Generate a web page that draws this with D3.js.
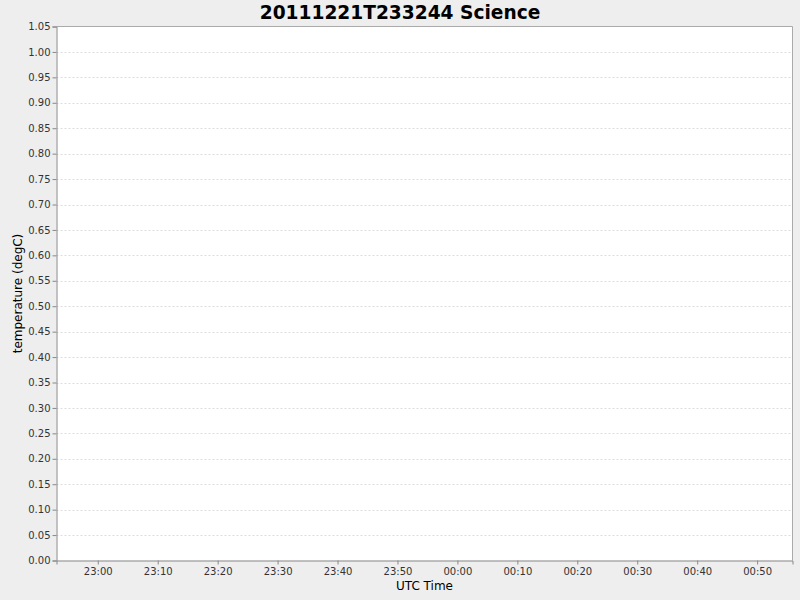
<!DOCTYPE html>
<html><head><meta charset="utf-8">
<script src="https://cdn.jsdelivr.net/npm/d3@7"></script>
<style>body{margin:0;background:#eeeeee;}svg{display:block;font-family:"DejaVu Sans",sans-serif;}</style>
</head><body>
<svg id="c" width="800" height="600"></svg>
<script>
const title = "20111221T233244 Science";
const yLabel = "temperature (degC)";
const xLabel = "UTC Time";
const yTicks = [0,0.05,0.10,0.15,0.20,0.25,0.30,0.35,0.40,0.45,0.50,0.55,0.60,0.65,0.70,0.75,0.80,0.85,0.90,0.95,1.00,1.05];
const xTickLabels = ["23:00","23:10","23:20","23:30","23:40","23:50","00:00","00:10","00:20","00:30","00:40","00:50"];
const xStart = new Date(Date.UTC(2011,11,21,22,53,7));
const xEnd = new Date(Date.UTC(2011,11,22,0,55,54));
const xTickTimes = [
  Date.UTC(2011,11,21,23,0),Date.UTC(2011,11,21,23,10),Date.UTC(2011,11,21,23,20),
  Date.UTC(2011,11,21,23,30),Date.UTC(2011,11,21,23,40),Date.UTC(2011,11,21,23,50),
  Date.UTC(2011,11,22,0,0),Date.UTC(2011,11,22,0,10),Date.UTC(2011,11,22,0,20),
  Date.UTC(2011,11,22,0,30),Date.UTC(2011,11,22,0,40),Date.UTC(2011,11,22,0,50)
].map(t=>new Date(t));

const svg = d3.select("#c");
const L=56.5, T=26.5, R=792.5, B=560.5;
const x = d3.scaleUtc().domain([xStart,xEnd]).range([L,R]);
const y = d3.scaleLinear().domain([0,1.05]).range([B,T]);

svg.append("rect").attr("x",0).attr("y",0).attr("width",800).attr("height",600).attr("fill","#eeeeee");
svg.append("rect").attr("x",L).attr("y",T).attr("width",R-L).attr("height",B-T).attr("fill","#ffffff");

// gridlines
svg.append("g").selectAll("line").data(yTicks.filter(d=>d>0 && d<1.05)).join("line")
  .attr("x1",L).attr("x2",R).attr("y1",d=>Math.round(y(d))+0.5).attr("y2",d=>Math.round(y(d))+0.5)
  .attr("stroke","#dddddd").attr("stroke-width",1).attr("stroke-dasharray","2,2");

// plot outline (top/right)
svg.append("path").attr("d",`M${L},${T}H${R}V${B}`).attr("fill","none").attr("stroke","#aaaaaa").attr("stroke-width",1);

// y axis
const yAxis = d3.axisLeft(y).tickValues(yTicks).tickFormat(d3.format(".2f")).tickSize(4).tickPadding(2);
const gy = svg.append("g").attr("transform",`translate(${L},0)`).call(yAxis);
gy.select(".domain").attr("stroke","#888888");
gy.selectAll(".tick line").attr("stroke","#888888");
gy.selectAll("text").attr("font-family","DejaVu Sans").attr("font-size",10).attr("fill","#333");

// x axis
const xAxis = d3.axisBottom(x).tickValues(xTickTimes).tickFormat((d,i)=>xTickLabels[i]).tickSize(4).tickPadding(3);
const gx = svg.append("g").attr("transform",`translate(0,${B})`).call(xAxis);
gx.select(".domain").attr("stroke","#888888");
gx.selectAll(".tick line").attr("stroke","#888888");
gx.selectAll("text").attr("font-family","DejaVu Sans").attr("font-size",10).attr("fill","#333");

svg.append("text").attr("x",400).attr("y",19).attr("text-anchor","middle")
  .attr("font-family","DejaVu Sans").attr("font-weight","bold").attr("font-size",18.6).attr("fill","#000").text(title);
svg.append("text").attr("x",(L+R)/2).attr("y",590).attr("text-anchor","middle")
  .attr("font-size",12).attr("fill","#000").text(xLabel);
svg.append("text").attr("transform",`translate(22,${(T+B)/2}) rotate(-90)`).attr("text-anchor","middle")
  .attr("font-size",12).attr("fill","#000").text(yLabel);
</script>
</body></html>
